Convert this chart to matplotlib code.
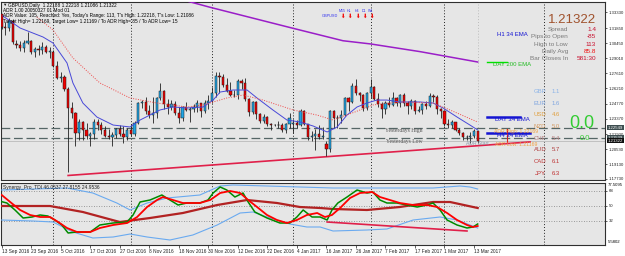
import matplotlib
matplotlib.use("Agg")
import matplotlib.pyplot as plt
import numpy as np

W, H = 625, 256
plt.rcParams["font.family"] = ["Liberation Sans", "DejaVu Sans"]

# GBPUSD daily bars, 13 Sep 2016 .. 14 Mar 2017
opens = [1.3315, 1.3200, 1.3190, 1.3255, 1.3040, 1.3025, 1.2995, 1.3050, 1.3065, 1.2965, 1.2990, 1.2980, 1.3010, 1.2965,
         1.2965, 1.2835, 1.2715, 1.2730, 1.2615, 1.2435, 1.2390, 1.2205, 1.2310, 1.2230, 1.2175, 1.2195, 1.2310, 1.2275,
         1.2230, 1.2180, 1.2170, 1.2185, 1.2240, 1.2195, 1.2165,
         1.2235, 1.2195, 1.2300, 1.2480, 1.2495, 1.2405, 1.2375, 1.2390, 1.2530, 1.2600, 1.2475, 1.2450, 1.2475, 1.2395,
         1.2345, 1.2445, 1.2420, 1.2425, 1.2450, 1.2480, 1.2405, 1.2485,
         1.2500, 1.2580, 1.2740, 1.2730, 1.2655, 1.2595, 1.2560, 1.2555, 1.2690, 1.2670, 1.2520, 1.2400, 1.2490, 1.2385,
         1.2315, 1.2355, 1.2285, 1.2275, 1.2280, 1.2275, 1.2230, 1.2290,
         1.2285, 1.2300, 1.2280, 1.2405, 1.2285, 1.2165, 1.2180, 1.2195, 1.2165, 1.2100, 1.2055, 1.2405, 1.2340, 1.2345,
         1.2370, 1.2530, 1.2490, 1.2645, 1.2575, 1.2555, 1.2435,
         1.2580, 1.2635, 1.2520, 1.2475, 1.2425, 1.2480, 1.2470, 1.2535, 1.2485, 1.2555, 1.2485, 1.2460, 1.2500, 1.2410,
         1.2415, 1.2475, 1.2455, 1.2550, 1.2545, 1.2425,
         1.2410, 1.2285, 1.2275, 1.2310, 1.2230, 1.2200, 1.2165, 1.2170, 1.2175, 1.22188]
highs = [1.3320, 1.3245, 1.3280, 1.3275, 1.3075, 1.3060, 1.3075, 1.3145, 1.3070, 1.3005, 1.3025, 1.3055, 1.3030, 1.3010,
         1.2985, 1.2880, 1.2770, 1.2745, 1.2635, 1.2495, 1.2400, 1.2330, 1.2320, 1.2295, 1.2210, 1.2335, 1.2330, 1.2310,
         1.2265, 1.2245, 1.2215, 1.2250, 1.2275, 1.2270, 1.2250,
         1.2285, 1.2315, 1.2495, 1.2510, 1.2545, 1.2470, 1.2545, 1.2545, 1.2675, 1.2610, 1.2520, 1.2510, 1.2500, 1.2450,
         1.2460, 1.2495, 1.2445, 1.2475, 1.2510, 1.2485, 1.2510, 1.2560,
         1.2635, 1.2775, 1.2775, 1.2760, 1.2720, 1.2685, 1.2605, 1.2710, 1.2710, 1.2715, 1.2535, 1.2500, 1.2500, 1.2395,
         1.2385, 1.2365, 1.2300, 1.2292, 1.2320, 1.2300, 1.2300, 1.2395,
         1.2335, 1.2325, 1.2425, 1.2415, 1.2290, 1.2225, 1.2240, 1.2280, 1.2260, 1.2130, 1.2415, 1.2415, 1.2370, 1.2415,
         1.2545, 1.2540, 1.2675, 1.2705, 1.2590, 1.2570, 1.2585,
         1.2705, 1.2645, 1.2580, 1.2490, 1.2505, 1.2545, 1.2585, 1.2545, 1.2565, 1.2580, 1.2500, 1.2520, 1.2510, 1.2460,
         1.2480, 1.2505, 1.2575, 1.2570, 1.2555, 1.2435,
         1.2410, 1.2335, 1.2325, 1.2310, 1.2255, 1.2215, 1.2185, 1.2210, 1.2240, 1.22218]
lows = [1.3174, 1.3121, 1.3160, 1.3035, 1.2995, 1.2975, 1.2960, 1.3040, 1.2945, 1.2915, 1.2935, 1.2940, 1.2950, 1.2910,
        1.2825, 1.2710, 1.2685, 1.2600, 1.1840, 1.2345, 1.2085, 1.2135, 1.2135, 1.2150, 1.2085, 1.2150, 1.2235, 1.2195,
        1.2170, 1.2150, 1.2080, 1.2155, 1.2180, 1.2110, 1.2135,
        1.2180, 1.2175, 1.2290, 1.2440, 1.2380, 1.2340, 1.2300, 1.2345, 1.2510, 1.2425, 1.2385, 1.2420, 1.2375, 1.2300,
        1.2320, 1.2410, 1.2310, 1.2400, 1.2400, 1.2350, 1.2390, 1.2430,
        1.2480, 1.2545, 1.2575, 1.2635, 1.2585, 1.2550, 1.2545, 1.2525, 1.2620, 1.2500, 1.2365, 1.2380, 1.2335, 1.2300,
        1.2300, 1.2270, 1.2235, 1.2265, 1.2250, 1.2215, 1.2200, 1.2255,
        1.2200, 1.2250, 1.2265, 1.2280, 1.2135, 1.2130, 1.2040, 1.2145, 1.2150, 1.1985, 1.2030, 1.2255, 1.2250, 1.2300,
        1.2365, 1.2410, 1.2480, 1.2560, 1.2505, 1.2410, 1.2415,
        1.2530, 1.2510, 1.2445, 1.2345, 1.2385, 1.2445, 1.2460, 1.2460, 1.2450, 1.2460, 1.2385, 1.2425, 1.2385, 1.2400,
        1.2380, 1.2425, 1.2450, 1.2490, 1.2385, 1.2345,
        1.2270, 1.2255, 1.2250, 1.2220, 1.2185, 1.2135, 1.2135, 1.2110, 1.2160, 1.21086]
closes = [1.3200, 1.3190, 1.3255, 1.3055, 1.3025, 1.2995, 1.3050, 1.3065, 1.2965, 1.2990, 1.2980, 1.3010, 1.2965, 1.2970,
          1.2835, 1.2715, 1.2730, 1.2615, 1.2435, 1.2390, 1.2205, 1.2310, 1.2230, 1.2175, 1.2195, 1.2310, 1.2275, 1.2230,
          1.2180, 1.2170, 1.2185, 1.2240, 1.2195, 1.2165, 1.2235,
          1.2195, 1.2300, 1.2480, 1.2495, 1.2405, 1.2375, 1.2390, 1.2530, 1.2600, 1.2475, 1.2450, 1.2475, 1.2395, 1.2345,
          1.2445, 1.2420, 1.2425, 1.2450, 1.2480, 1.2405, 1.2485, 1.2500,
          1.2580, 1.2740, 1.2730, 1.2655, 1.2595, 1.2560, 1.2555, 1.2690, 1.2670, 1.2520, 1.2400, 1.2490, 1.2385, 1.2315,
          1.2355, 1.2285, 1.2275, 1.2280, 1.2275, 1.2230, 1.2290, 1.2340,
          1.2300, 1.2280, 1.2405, 1.2285, 1.2165, 1.2180, 1.2195, 1.2165, 1.2180, 1.2055, 1.2405, 1.2340, 1.2345, 1.2370,
          1.2530, 1.2490, 1.2645, 1.2575, 1.2555, 1.2435, 1.2580,
          1.2635, 1.2520, 1.2475, 1.2425, 1.2480, 1.2470, 1.2535, 1.2485, 1.2555, 1.2485, 1.2460, 1.2500, 1.2410, 1.2415,
          1.2475, 1.2455, 1.2550, 1.2545, 1.2425, 1.2410,
          1.2285, 1.2275, 1.2310, 1.2230, 1.2200, 1.2165, 1.2170, 1.2175, 1.2220, 1.21322]

date_tick_idx = [0, 8, 16, 24, 32, 40, 48, 56, 64, 72, 80, 88, 96, 104, 112, 120, 128]
date_labels = ["13 Sep 2016", "23 Sep 2016", "5 Oct 2016", "17 Oct 2016", "27 Oct 2016", "8 Nov 2016",
               "18 Nov 2016", "30 Nov 2016", "12 Dec 2016", "22 Dec 2016", "4 Jan 2017", "16 Jan 2017",
               "26 Jan 2017", "7 Feb 2017", "17 Feb 2017", "1 Mar 2017", "13 Mar 2017"]
month_sep_idx = [14, 35, 57, 79, 100, 120, 147]

# moving averages on the price chart (bar index, price)
ema_fast_idx = [0.3, 5.0, 11.2, 13.9, 17.7, 19.3, 22.0, 25.8, 30.2, 34.8, 37.5, 40.2, 42.9, 46.4, 50.2, 54.6, 57.3,
                59.2, 62.7, 66.5, 69.2, 73.5, 77.3, 80.8, 84.4, 88.2, 90.9, 93.6, 96.3, 99.0, 101.7, 104.4, 107.9,
                113.4, 116.9, 119.6, 123.4, 126.9, 129.0]
ema_fast_val = [1.3299, 1.3186, 1.3102, 1.3046, 1.2859, 1.2672, 1.2484, 1.2353, 1.2278, 1.2260, 1.2325, 1.2372,
                1.2419, 1.2447, 1.2438, 1.2447, 1.2512, 1.2587, 1.2606, 1.2606, 1.2531, 1.2419, 1.2325, 1.2307,
                1.2269, 1.2213, 1.2260, 1.2372, 1.2447, 1.2484, 1.2512, 1.2512, 1.2494, 1.2494, 1.2484, 1.2438,
                1.2353, 1.2278, 1.2232]
ema_slow_idx = [9.5, 11.2, 13.9, 19.3, 26.6, 34.8, 42.1, 50.2, 54.6, 61.0, 65.4, 70.8, 79.0, 85.4, 89.8, 95.7,
                100.6, 107.9, 116.9, 121.5, 129.0]
ema_slow_val = [1.3290, 1.3243, 1.3168, 1.2906, 1.2672, 1.2531, 1.2484, 1.2447, 1.2466, 1.2531, 1.2559, 1.2512,
                1.2419, 1.2372, 1.2325, 1.2400, 1.2466, 1.2494, 1.2484, 1.2419, 1.2306]
ema200_idx = [49.1, 56.5, 78.9, 92.5, 100.0, 113.4, 129.0]
ema200_val = [1.3449, 1.3380, 1.3184, 1.3067, 1.3037, 1.2965, 1.2868]
trend_idx = [18.0, 143.2]
trend_val = [1.1806, 1.2120]

yest_high, yest_low, last_price = 1.22549, 1.21539, 1.21322
adr_high, adr_low = 1.22169, 1.21169
ema_tags = [("DAY 200 EMA", 1.2868, 137.0, "#00E000", 1.0), ("DAY 34 EMA", 1.2353, 140.5, "#1414D2", 1.8),
            ("H4 34 EMA", 1.2199, 143.2, "#1414D2", 1.8)]

price_ticks = [1.17730, 1.19130, 1.20530, 1.21930, 1.23370, 1.24770, 1.26210, 1.27610, 1.29010, 1.30450,
               1.31850, 1.33330]

# Synergy Pro TDI (bar index, value)
tdi_green_idx = [0, 1.4, 3.6, 5.8, 8.2, 10.4, 12.5, 14.4, 16.3, 18.0, 20.4, 24.0, 26.6, 30.2, 34.0, 35.6, 37.5,
                 40.2, 43.4, 45.6, 47.8, 50.2, 53.7, 55.9, 57.3, 59.2, 61.0, 63.2, 65.4, 66.8, 68.6, 71.9, 75.4,
                 78.1, 80.0, 81.7, 84.1, 86.3, 88.2, 89.5, 91.1, 93.6, 96.3, 99.0, 100.6, 102.5, 104.4, 107.1,
                 109.8, 112.6, 115.3, 116.9, 118.8, 120.7, 123.4, 126.1, 127.7, 129.0]
tdi_green_val = [54.9, 53.3, 44.9, 35.3, 36.5, 38.9, 37.7, 32.9, 26.9, 17.3, 18.5, 18.5, 26.9, 29.3, 30.5, 38.9,
                 54.5, 56.9, 62.9, 56.9, 50.9, 53.3, 53.3, 56.9, 65.3, 72.5, 68.9, 60.5, 65.3, 54.5, 42.5, 35.3,
                 29.3, 29.3, 36.5, 44.9, 36.5, 36.5, 32.9, 44.9, 53.3, 60.5, 68.9, 65.3, 66.5, 56.9, 53.3, 53.3,
                 50.9, 48.5, 50.9, 53.3, 44.9, 32.9, 26.9, 23.3, 24.5, 28.1]
tdi_red_idx = [0, 2.3, 5.0, 7.7, 10.4, 13.1, 15.3, 17.7, 20.4, 24.0, 26.6, 30.2, 34.0, 36.7, 39.4, 42.1, 43.7,
               46.4, 49.1, 53.7, 56.5, 59.2, 61.9, 64.6, 66.8, 69.2, 71.9, 74.6, 77.3, 80.0, 82.7, 85.5, 87.6,
               89.5, 91.7, 94.4, 97.1, 100.4, 102.5, 105.2, 107.9, 111.5, 115.3, 118.0, 120.7, 123.4, 126.1,
               127.7, 129.0]
tdi_red_val = [62.9, 54.5, 44.9, 38.9, 36.5, 36.5, 30.5, 23.3, 18.5, 18.5, 23.3, 26.9, 29.3, 36.5, 48.5, 56.9,
               60.5, 56.9, 53.3, 53.3, 56.9, 65.3, 67.7, 65.3, 56.9, 48.5, 38.9, 32.9, 29.3, 32.9, 38.9, 41.3,
               36.5, 38.9, 47.3, 59.3, 65.3, 66.5, 60.5, 56.9, 53.3, 50.9, 50.9, 48.5, 41.3, 32.9, 26.9, 24.5, 25.7]
tdi_base_idx = [0, 13.1, 22.0, 32.0, 40.2, 49.1, 58.4, 66.5, 74.6, 80.8, 86.3, 89.8, 99.0, 107.9, 116.9, 121.5,
                129.0]
tdi_base_val = [49.7, 49.7, 42.5, 30.5, 35.3, 41.3, 50.9, 56.9, 53.3, 48.5, 47.3, 46.1, 44.9, 48.5, 54.5, 54.5,
                47.3]
tdi_up_idx = [0, 8.5, 17.7, 24.7, 31.2, 34.8, 39.4, 44.8, 53.7, 59.2, 62.7, 71.9, 80.8, 89.8, 99.0, 107.9, 116.9,
              124.2, 126.9, 129.0]
tdi_up_val = [68.9, 70.1, 71.3, 65.3, 53.3, 44.9, 53.3, 59.3, 62.9, 73.7, 74.9, 73.7, 72.5, 71.3, 71.3, 71.3,
              71.3, 73.7, 72.5, 70.1]
tdi_dn_idx = [0, 8.5, 13.9, 19.3, 24.7, 30.2, 34.8, 39.4, 45.6, 51.8, 58.4, 64.6, 68.1, 71.9, 78.1, 82.7, 86.3,
              89.8, 99.0, 104.4, 111.5, 118.8, 123.4, 129.0]
tdi_dn_val = [32.9, 31.7, 30.5, 18.5, 11.3, 12.5, 16.1, 12.5, 8.9, 14.9, 26.9, 41.3, 42.5, 36.5, 28.1, 24.5, 24.5,
              19.7, 20.9, 22.1, 32.9, 36.5, 32.9, 23.3]
tdi_trend_idx = [88.2, 126.1]
tdi_trend_val = [30.5, 19.7]
tdi_levels = [68, 50, 32]

currencies = ["GBP", "EUR", "USD", "NZD", "CHF", "AUD", "CAD", "JPY"]
strength = ["1.1", "1.6", "4.6", "5.0", "5.4", "5.7", "6.1", "6.3"]
cur_colors = ["#8CB4E8", "#7FA6E0", "#E0A040", "#D49A60", "#B88080", "#B04040", "#C03838", "#C03030"]

info_labels = ["Spread", "Pips to Open", "High to Low", "Daily Avg", "Bar Closes In"]
info_values = ["1.4", "-85", "113", "85.8", "581:30"]

tf_labels = ["M15", "H1", "H4", "D1", "W1"]

fig = plt.figure(figsize=(W / 100, H / 100), dpi=100)
fig.patch.set_facecolor("white")
ax = fig.add_axes([1 / W, 1 - 180 / H, 604 / W, 178 / H])
ax2 = fig.add_axes([1 / W, 1 - 245 / H, 604 / W, 62 / H])


def ftext(xp, yp, s, **kw):
    fig.text(xp / W, 1 - yp / H, s, **kw)


for a in (ax, ax2):
    a.set_facecolor("#E6E6E6")
    a.set_xlim(-0.19, 163.5)
    for sp in a.spines.values():
        sp.set_color("#303030")
        sp.set_linewidth(0.8)
    for s in month_sep_idx:
        a.axvline(s, color="#222222", lw=0.7, ls=(0, (1, 2)), zorder=1)

# ---- price pane
ax.set_ylim(1.17636, 1.34297)
o, h, l, c = map(np.array, (opens, highs, lows, closes))
x = np.arange(len(c))
up = c >= o
ax.axhline(yest_high, color="#556666", lw=0.9, ls=(0, (7, 3)), zorder=2)
ax.axhline(yest_low, color="#556666", lw=0.9, ls=(0, (7, 3)), zorder=2)
ax.axhline(last_price, color="#C0C0C0", lw=0.7, zorder=1)
ax.axvline(x[-1], color="#BBBBBB", lw=0.7, ls=(0, (1, 2)), zorder=1)
ax.plot(trend_idx, trend_val, color="#E0204A", lw=1.2, zorder=2)

ax.vlines(x, l, h, color="#202020", lw=0.6, zorder=3)
lo = np.minimum(o, c)
hh = np.maximum(np.abs(c - o), 0.0003)
ax.bar(x[up], hh[up], bottom=lo[up], width=0.6, color="#1EA6E6", edgecolor="#1A1A1A", lw=0.35, zorder=4)
ax.bar(x[~up], hh[~up], bottom=lo[~up], width=0.6, color="#F00000", edgecolor="#1A1A1A", lw=0.35, zorder=4)

ax.plot(ema_fast_idx, ema_fast_val, color="#4848D8", lw=0.7, zorder=5)
ax.plot(ema_slow_idx, ema_slow_val, color="#F04848", lw=0.7, ls=(0, (1, 1.5)), zorder=5)
ax.plot(ema200_idx, ema200_val, color="#9A1EC8", lw=1.1, zorder=5)

for name, val, x_end, col, lw in ema_tags:
    ax.plot([131.5, x_end], [val, val], color=col, lw=lw, zorder=5)
ax.text(138.3, 1.2868, "DAY 200 EMA", color="#22BB22", fontsize=4.3, ha="center", va="top")
ax.text(138.3, 1.2353, "DAY 34 EMA", color="#1414D2", fontsize=4.3, ha="center", va="top")
ax.text(139.4, adr_high, "ADR High: 1.22169", color="#F0A040", fontsize=3.7, ha="center", va="center", zorder=6)
ax.text(138.3, 1.2199, "H4 34 EMA", color="#1414D2", fontsize=4.3, ha="center", va="top", zorder=6)
ax.text(139.4, adr_low, "ADR Low: 1.21169", color="#F0A040", fontsize=3.7, ha="center", va="top", zorder=6)
ax.plot([136.9, 136.9], [adr_low, adr_high + 0.0025], color="#E02020", lw=0.8, zorder=5)
ax.text(x[-1], 1.2126, "ADR Start", color="#8A9AAA", fontsize=3.6, ha="center", va="top")
ax.text(109, yest_high - 0.0004, "Yesterdays High", family="Liberation Serif", color="#505050", fontsize=4.1,
        ha="center", va="top")
ax.text(109, yest_low - 0.0004, "Yesterdays Low", family="Liberation Serif", color="#505050", fontsize=4.1,
        ha="center", va="top")

ax.set_xticks([])
ax.yaxis.tick_right()
ax.set_yticks(price_ticks)
ax.set_yticklabels(["%.5f" % p for p in price_ticks])
ax.tick_params(axis="y", length=1.5, width=0.5, labelsize=3.1, pad=1, colors="#202020")
ytr = ax.get_yaxis_transform()
for val, bg in [(yest_high, "#3E4E50"), (yest_low, "#3E4E50"), (last_price, "#101010")]:
    ax.text(1.004, val, "%.5f" % val, transform=ytr, fontsize=3.1, color="white", va="center", ha="left",
            bbox=dict(boxstyle="square,pad=0.2", fc=bg, ec="none"), clip_on=False)

# ---- TDI pane
ax2.set_ylim(2.9, 77.3)
for lv in tdi_levels:
    ax2.axhline(lv, color="#808080", lw=0.6, ls=(0, (1, 2)), zorder=1)
ax2.plot(tdi_up_idx, tdi_up_val, color="#6AAAF0", lw=0.8, zorder=3)
ax2.plot(tdi_dn_idx, tdi_dn_val, color="#6AAAF0", lw=0.8, zorder=3)
ax2.plot(tdi_base_idx, tdi_base_val, color="#B22222", lw=1.6, zorder=4)
ax2.plot(tdi_trend_idx, tdi_trend_val, color="#E0204A", lw=1.2, zorder=4)
ax2.plot(tdi_green_idx, tdi_green_val, color="#008A00", lw=1.1, zorder=5)
ax2.plot(tdi_red_idx, tdi_red_val, color="#FF0000", lw=1.3, zorder=6)
ax2.text(0.004, 0.97, "Synergy_Pro_TDI 46.0537 27.8155 24.9536", transform=ax2.transAxes, fontsize=3.5,
         va="top", ha="left", color="#202020")
ax2.yaxis.tick_right()
ax2.set_yticks(tdi_levels)
ax2.set_yticklabels([str(v) for v in tdi_levels])
ax2.tick_params(axis="y", length=1.5, width=0.5, labelsize=3.1, pad=1, colors="#202020")
ax2.text(1.004, 1.0, "77.5095", transform=ax2.transAxes, fontsize=3.1, va="top", ha="left")
ax2.text(1.004, 0.02, "5.5802", transform=ax2.transAxes, fontsize=3.1, va="bottom", ha="left")
ax2.set_xticks(date_tick_idx)
ax2.set_xticklabels(date_labels, ha="left")
ax2.tick_params(axis="x", length=2, width=0.5, labelsize=3.4, pad=1, colors="#202020")

# ---- overlay texts drawn by indicators
ftext(2, 5, "\u25bc", fontsize=3.2, va="center", color="#202020")
ftext(8, 5, "GBPUSD,Daily  1.22188 1.22218 1.21086 1.21322", fontsize=3.4, va="center")
ftext(3, 11, "ADR 1.00 20050327 01 Mod 01", fontsize=3.4, va="center")
ftext(3, 16, "ADR Value: 105, Reached: Yes, Today's Range: 113, T's High: 1.22218, T's Low: 1.21086",
      fontsize=3.4, va="center")
ftext(3, 21, "Target High= 1.22169, Target Low= 1.21169 / To ADR High= 85 / To ADR Low= 15", fontsize=3.4,
      va="center")

ftext(330, 16, "GBPUSD", fontsize=2.8, color="#3030F0", ha="center", va="center")
for k, (lab, xp) in enumerate(zip(tf_labels, [342, 349, 357, 364, 371])):
    ftext(xp, 11, lab, fontsize=2.6, color="#3030F0", ha="center", va="center")
    ftext(xp, 16.5, "\u2b07", fontsize=4, color="#F01010", ha="center", va="center", fontweight="bold")

ftext(596, 20, "1.21322", fontsize=9.5, color="#A0522D", ha="right", va="center")
for k, (lab, val) in enumerate(zip(info_labels, info_values)):
    yp = 29.5 + 7.3 * k
    ftext(568, yp, lab, fontsize=4.6, color="#7A7A7A", ha="right", va="center")
    ftext(596, yp, val, fontsize=4.6, color="#F01010" if k == 3 else "#C8102E", ha="right", va="center")
ftext(512, 35, "H1 34 EMA", fontsize=4.3, color="#1414D2", ha="center", va="center")

for k, (cur, st, col) in enumerate(zip(currencies, strength, cur_colors)):
    yp = 91.7 + 11.65 * k
    ftext(540, yp, cur, fontsize=4.3, color=col, ha="center", va="center")
    ftext(556, yp, st, fontsize=4.3, color=col, ha="center", va="center")

ftext(582, 123.5, "0.0", fontsize=13, color="#33CC33", ha="center", va="center")
ftext(585, 138, "0.0", fontsize=5.5, color="#33CC33", ha="center", va="center")

fig.savefig("out.png", dpi=100)
